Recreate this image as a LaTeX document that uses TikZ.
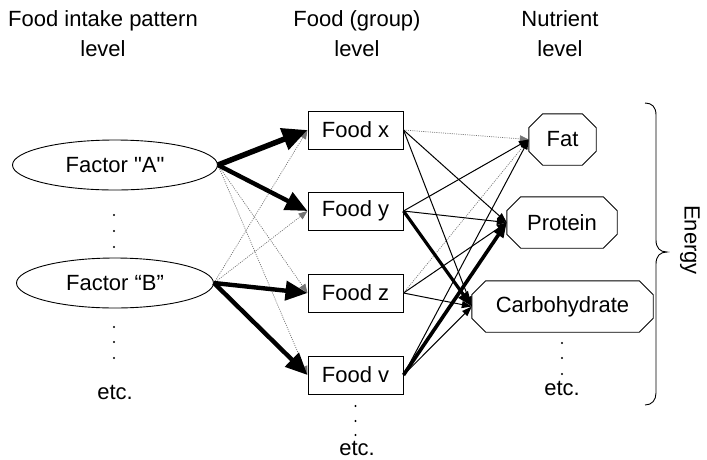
\documentclass[tikz,border=0pt]{standalone}
\usepackage{fontspec}
\setmainfont{Liberation Sans}
% same face without TeX ligature mapping, so that " stays straight
\newfontfamily\plainquotes{Liberation Sans}
\usetikzlibrary{arrows.meta,shapes.geometric}

% draws an octagon (chamfered box) around a named node
\newcommand{\octagonof}[1]{%
  \draw[octline] ([xshift=14pt]#1.north west) -- ([xshift=-14pt]#1.north east)
    -- ([yshift=-14pt]#1.north east) -- ([yshift=14pt]#1.south east)
    -- ([xshift=-14pt]#1.south east) -- ([xshift=14pt]#1.south west)
    -- ([yshift=14pt]#1.south west) -- ([yshift=-14pt]#1.north west) -- cycle;}

\begin{document}
\begin{tikzpicture}[x=1pt,y=-1pt,
  every node/.style={font=\fontsize{22}{30}\selectfont, inner sep=0pt},
  hdr/.style={align=center},
  factor/.style={draw, ellipse, line width=0.9pt, minimum height=50pt},
  foodbox/.style={draw, rectangle, line width=1pt, minimum width=95pt, minimum height=38pt},
  nutr/.style={rectangle, minimum height=51pt},
  octline/.style={line width=0.9pt},
  dotlink/.style={draw=black!55, line width=0.7pt, dash pattern=on 1pt off 1.2pt,
    -{Triangle[length=9pt,width=7pt]}},
  thinlink/.style={line width=1pt, -{Triangle[length=10pt,width=7pt]}},
  midlink/.style={line width=3.2pt, -{Triangle[length=15pt,width=11pt]}},
  boldlink/.style={line width=4.4pt, -{Triangle[length=22pt,width=19pt]}},
  heavylink/.style={line width=5.5pt, -{Triangle[length=25pt,width=22pt]}},
  dotmark/.style={fill=black},
]
\useasboundingbox (0,0) rectangle (707,459);

% column headings
\node[hdr] (h1) at (103,34) {Food intake pattern\\level};
\node[hdr] (h2) at (357,34) {Food (group)\\level};
\node[hdr] (h3) at (560,34) {Nutrient\\level};

% factors
\node[factor, minimum width=205pt] (fa) at (115,165) {\plainquotes Factor "A"};
\node[factor, minimum width=197pt] (fb) at (115,283) {Factor “B”};
\foreach \y in {215,231,247} \fill[dotmark] (114,\y) circle (1.1pt);
\foreach \y in {327,342,358} \fill[dotmark] (114,\y) circle (1.1pt);
\node (etc1) at (115,392) {etc.};

% foods
\node[foodbox] (fx) at (355.5,130) {Food x};
\node[foodbox] (fy) at (355.5,211) {Food y};
\node[foodbox] (fz) at (355.5,293) {Food z};
\node[foodbox] (fv) at (355.5,375) {Food v};
\foreach \y in {406,421,435} \fill[dotmark] (355.5,\y) circle (1.1pt);
\node (etc2) at (357,448) {etc.};

% nutrients
\node[nutr, minimum width=67pt] (fat) at (562.5,139.5) {Fat};
\node[nutr, minimum width=110pt] (prot) at (562,222.5) {Protein};
\node[nutr, minimum width=181pt] (carb) at (562.5,306.5) {Carbohydrate};
\octagonof{fat}
\octagonof{prot}
\octagonof{carb}
\foreach \y in {343,358,374} \fill[dotmark] (562,\y) circle (1.1pt);
\node (etc3) at (562,388) {etc.};

% energy brace
\draw[line width=0.9pt] (645,103) .. controls (652,103) and (656,107) .. (656,115)
  -- (656,240) .. controls (656,248) and (660,252) .. (667,252)
  .. controls (660,252) and (656,256) .. (656,264)
  -- (656,393) .. controls (656,400) and (652,405) .. (645,405);
\node[rotate=-90] (energy) at (690,240) {Energy};

% weak links
\draw[dotlink] (fa.east) -- (fz.west);
\draw[dotlink] (fa.east) -- (fv.west);
\draw[dotlink] (fb.east) -- (fx.west);
\draw[dotlink] (fb.east) -- (fy.west);
\draw[dotlink] (fx.east) -- (fat.west);
\draw[dotlink] (fz.east) -- (fat.west);

% ordinary links
\draw[thinlink] (fx.east) -- (prot.west);
\draw[thinlink] (fx.east) -- (carb.west);
\draw[thinlink] (fy.east) -- (fat.west);
\draw[thinlink] (fy.east) -- (prot.west);
\draw[thinlink] (fz.east) -- (prot.west);
\draw[thinlink] (fz.east) -- (carb.west);
\draw[thinlink] (fv.east) -- (fat.west);
\draw[thinlink] (fv.east) -- (carb.west);

% strong links
\draw[midlink] (fy.east) -- (carb.west);
\draw[midlink, line width=3.6pt] (fv.east) -- (prot.west);
\draw[heavylink] (fa.east) -- (fx.west);
\draw[boldlink] (fa.east) -- (fy.west);
\draw[boldlink] (fb.east) -- (fz.west);
\draw[boldlink] (fb.east) -- (fv.west);
\end{tikzpicture}
\end{document}
